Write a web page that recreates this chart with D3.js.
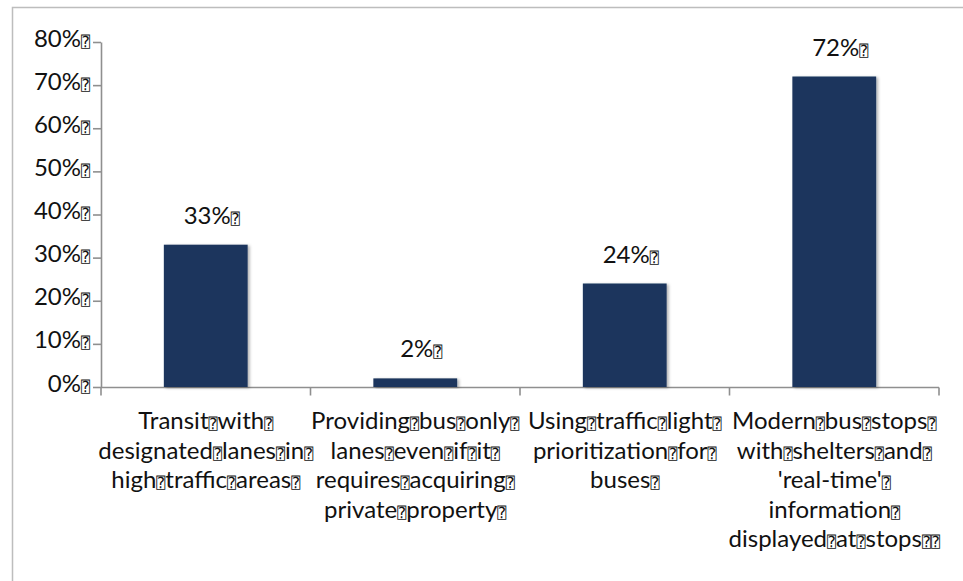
<!DOCTYPE html>
<html>
<head>
<meta charset="utf-8">
<script src="https://cdn.jsdelivr.net/npm/d3@7"></script>
<style>
  html, body { margin: 0; padding: 0; background: #ffffff; }
  svg { display: block; }
  .lbl { font-family: Lato, "Open Sans", sans-serif; fill: #111; }
  .q { font-family: "DejaVu Sans Mono", "DejaVu Sans", sans-serif; }
</style>
</head>
<body>
<script>
// Survey results: share of respondents choosing each transit improvement
const categories = [
  ["Transit\u2370with\u2370", "designated\u2370lanes\u2370in\u2370", "high\u2370traffic\u2370areas\u2370"],
  ["Providing\u2370bus\u2370only\u2370", "lanes\u2370even\u2370if\u2370it\u2370", "requires\u2370acquiring\u2370", "private\u2370property\u2370"],
  ["Using\u2370traffic\u2370light\u2370", "prioritization\u2370for\u2370", "buses\u2370"],
  ["Modern\u2370bus\u2370stops\u2370", "with\u2370shelters\u2370and\u2370", "'real-time'\u2370", "information\u2370", "displayed\u2370at\u2370stops\u2370\u2370"]
];
const values = [0.33, 0.02, 0.24, 0.72];
const valueLabels = ["33%\u2370", "2%\u2370", "24%\u2370", "72%\u2370"];
const yTicks = [0, 0.1, 0.2, 0.3, 0.4, 0.5, 0.6, 0.7, 0.8];

const W = 963, H = 581;
const QUAD = "\u2370";
const FS = 24;

const svg = d3.select("body").append("svg").attr("width", W).attr("height", H);

// soft shadow under the bars
const defs = svg.append("defs");
const f = defs.append("filter").attr("id", "shadow")
  .attr("x", "-20%").attr("y", "-20%").attr("width", "140%").attr("height", "140%");
f.append("feDropShadow").attr("dx", 2).attr("dy", 1).attr("stdDeviation", 1.8)
  .attr("flood-color", "#000").attr("flood-opacity", 0.3);

// outer frame
svg.append("rect").attr("x", 12.5).attr("y", 7.5).attr("width", W + 20).attr("height", H + 20)
  .attr("fill", "none").attr("stroke", "#bdbdbd").attr("stroke-width", 1.5);

const ids = categories.map((_, i) => i);
const x = d3.scaleBand().domain(ids).range([101, 939]).paddingInner(0.6).paddingOuter(0.3);
const y = d3.scaleLinear().domain([0, 0.8]).range([387, 42]);

// write a string, rendering the quad glyphs in their own smaller tspans
function writeText(sel, str, size) {
  const parts = str.split(/(\u2370)/).filter(s => s.length);
  parts.forEach(p => {
    if (p === QUAD) {
      sel.append("tspan").attr("class", "q").attr("font-size", 15).text(p);
    } else {
      sel.append("tspan").attr("font-size", size).text(p);
    }
  });
}

// y axis
const yAxis = d3.axisLeft(y).tickValues(yTicks).tickSize(8).tickSizeOuter(0).tickPadding(3)
  .tickFormat(d => d3.format(".0%")(d) + QUAD);
const gy = svg.append("g").attr("transform", "translate(101,0)").call(yAxis);
gy.select(".domain").attr("stroke", "#8f8f8f").attr("stroke-width", 1.6);
gy.selectAll(".tick line").attr("stroke", "#8f8f8f").attr("stroke-width", 1.6);
gy.selectAll(".tick text").each(function(d) {
  const t = d3.select(this).text(null).attr("class", "lbl").attr("dy", "0.4em");
  writeText(t, d3.format(".0%")(d) + QUAD, FS);
});

// x axis line with ticks at category boundaries
const gx = svg.append("g").attr("transform", "translate(0,387.5)");
gx.append("line").attr("x1", x.range()[0]).attr("x2", x.range()[1])
  .attr("stroke", "#8f8f8f").attr("stroke-width", 1.6);
const bounds = d3.range(ids.length + 1).map(i => x.range()[0] + i * x.step());
gx.selectAll("line.tk").data(bounds).join("line").attr("class", "tk")
  .attr("x1", d => d).attr("x2", d => d).attr("y1", 0).attr("y2", 8)
  .attr("stroke", "#8f8f8f").attr("stroke-width", 1.6);

// bars
svg.append("g").selectAll("rect").data(values).join("rect")
  .attr("x", (d, i) => x(i)).attr("width", x.bandwidth())
  .attr("y", d => y(d)).attr("height", d => y(0) - y(d))
  .attr("fill", "#1b365d").attr("filter", "url(#shadow)");

// value labels
svg.append("g").selectAll("text").data(values).join("text")
  .attr("class", "lbl").attr("text-anchor", "middle")
  .attr("x", (d, i) => x(i) + x.bandwidth() / 2 + 6)
  .attr("y", d => y(d) - 21)
  .each(function(d, i) { writeText(d3.select(this), valueLabels[i], FS); });

// category labels
const cl = svg.append("g");
categories.forEach((lines, i) => {
  lines.forEach((ln, j) => {
    const t = cl.append("text").attr("class", "lbl").attr("text-anchor", "middle")
      .attr("x", x(i) + x.bandwidth() / 2)
      .attr("y", 429 + j * 29.6);
    writeText(t, ln, FS);
  });
});
</script>
</body>
</html>
